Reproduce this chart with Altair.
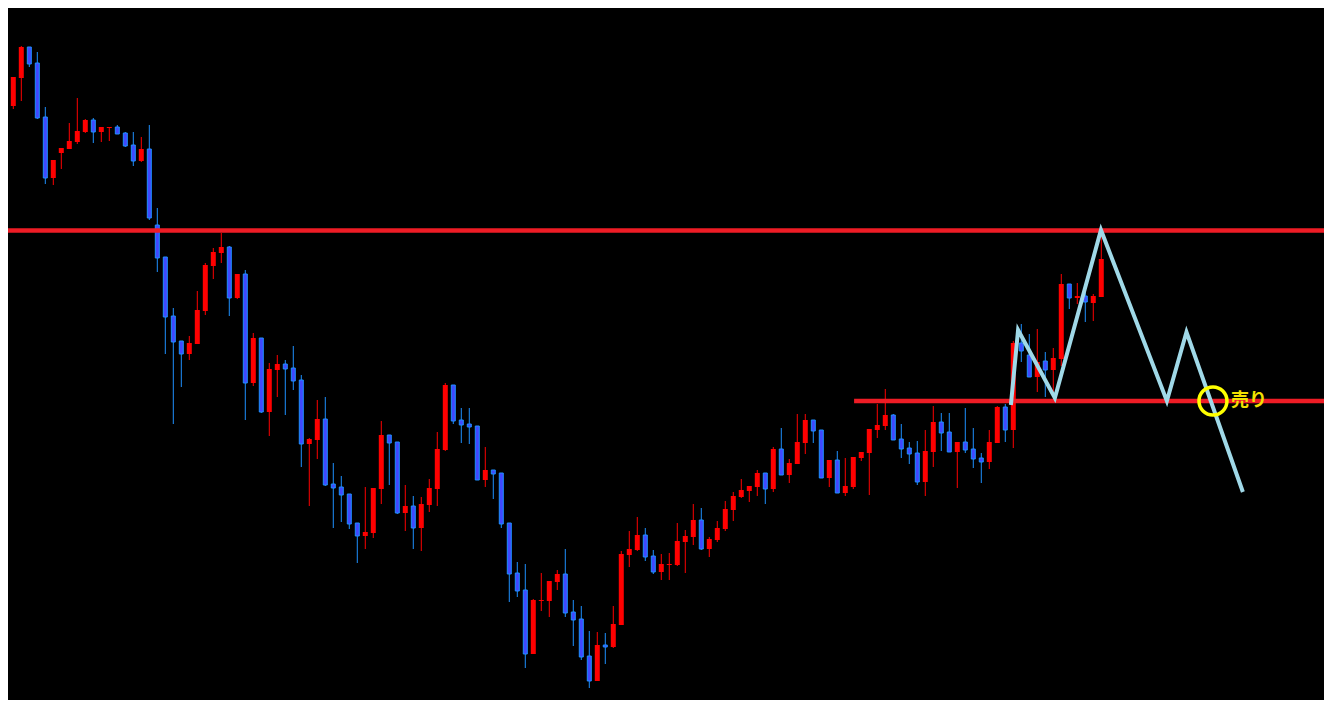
import altair as alt
import pandas as pd

# ---- candle data (index, open, high, low, close) ----
opens = [575, 594, 622, 653, 637, 583, 522, 547, 551, 558, 568, 580, 568, 572, 573, 567, 555, 539, 551, 475,
         443, 384, 359, 346, 356, 389, 434, 447, 453, 402, 426, 317, 362, 288, 330, 336, 332, 320, 256, 260,
         281, 216, 213, 206, 177, 164, 167, 211, 265, 258, 187, 194, 172, 195, 211, 250, 315, 280, 276, 274,
         220, 230, 227, 177, 127, 110, 46, 99, 99, 118, 126, 88, 81, 44, 19, 55, 53, 75, 145, 150,
         165, 144, 128, 135, 135, 158, 163, 180, 151, 160, 171, 190, 203, 209, 213, 227, 211, 251, 225, 236,
         257, 280, 270, 222, 240, 207, 213, 242, 247, 270, 274, 285, 261, 252, 247, 218, 248, 278, 268, 248,
         258, 251, 242, 238, 257, 293, 270, 357, 345, 323, 339, 330, 341, 416, 402, 404, 397, 403]
highs = [600, 623, 654, 653, 648, 593, 540, 552, 577, 602, 581, 582, 573, 573, 575, 568, 568, 563, 575, 492,
         443, 392, 359, 364, 409, 437, 452, 467, 454, 426, 430, 367, 362, 337, 345, 340, 354, 325, 262, 300,
         303, 237, 224, 206, 177, 213, 212, 279, 265, 258, 215, 204, 203, 221, 268, 317, 315, 292, 292, 274,
         253, 230, 227, 177, 138, 136, 101, 127, 119, 130, 151, 100, 94, 69, 68, 67, 94, 149, 169, 183,
         172, 150, 146, 147, 177, 170, 196, 192, 163, 179, 199, 208, 221, 214, 230, 227, 253, 272, 241, 286,
         286, 280, 270, 240, 249, 242, 243, 248, 271, 296, 311, 286, 276, 258, 259, 270, 294, 287, 287, 258,
         292, 272, 247, 270, 294, 296, 359, 376, 366, 371, 348, 352, 426, 416, 417, 410, 406, 465]
lows = [560, 591, 599, 633, 581, 516, 515, 531, 551, 556, 567, 557, 558, 559, 566, 553, 534, 538, 480, 428,
        346, 276, 313, 340, 356, 385, 421, 437, 384, 401, 280, 314, 287, 264, 303, 285, 310, 233, 194, 241,
        214, 172, 178, 171, 137, 151, 162, 196, 215, 186, 169, 151, 149, 188, 194, 249, 276, 257, 256, 220,
        213, 201, 172, 98, 103, 32, 46, 89, 83, 110, 83, 54, 40, 12, 19, 36, 52, 75, 133, 149,
        139, 126, 120, 120, 134, 127, 155, 150, 143, 158, 169, 179, 202, 198, 204, 196, 208, 225, 217, 236,
        246, 257, 222, 213, 207, 204, 211, 239, 205, 262, 270, 260, 242, 236, 215, 204, 233, 249, 248, 212,
        247, 232, 217, 231, 257, 258, 252, 338, 323, 308, 303, 308, 334, 391, 396, 378, 379, 403]
closes = [595, 623, 653, 636, 582, 522, 540, 552, 559, 569, 580, 568, 573, 573, 566, 554, 539, 551, 482, 442,
          383, 358, 346, 357, 390, 435, 448, 453, 402, 426, 317, 362, 288, 331, 336, 331, 319, 256, 261, 281,
          215, 212, 205, 176, 164, 168, 212, 265, 257, 187, 194, 172, 196, 212, 251, 315, 279, 275, 273, 220,
          230, 226, 176, 126, 109, 46, 100, 100, 119, 126, 87, 80, 43, 19, 55, 53, 76, 146, 151, 165,
          143, 128, 136, 136, 159, 164, 180, 151, 161, 172, 191, 204, 210, 214, 227, 211, 251, 225, 237, 258,
          280, 269, 222, 240, 207, 214, 243, 248, 271, 275, 285, 260, 251, 246, 218, 249, 278, 267, 248, 258,
          250, 241, 238, 258, 293, 270, 357, 349, 323, 338, 330, 342, 416, 402, 404, 398, 404, 441]

# ---- horizontal resistance / support lines ----
level_prices = [469.5, 299]
level_start = [-5, 106.1]
level_end = [170, 170]

# ---- zigzag (double-top sketch) ----
zig_x = [125.7, 126.6, 131.2, 136.96, 145.2, 147.65, 154.7]
zig_p = [295, 370, 302, 470, 299, 368, 208]

# ---- sell signal ----
sell_x = [150.96]
sell_p = [299]
label_x = [153.2]
label_text = ["売り"]

n = len(opens)
df = pd.DataFrame({
    "i": list(range(n)),
    "open": opens, "high": highs, "low": lows, "close": closes,
})
df["dir"] = ["up" if c >= o else "down" for o, c in zip(opens, closes)]

xs = alt.Scale(domain=[0.3375, 164.84], nice=False, zero=False, padding=0)
ys = alt.Scale(domain=[0, 692], nice=False, zero=False, padding=0)

base = alt.Chart(df)

wicks = base.mark_rule(strokeWidth=1, clip=True).encode(
    x=alt.X("i:Q", scale=xs, axis=None),
    y=alt.Y("low:Q", scale=ys, axis=None),
    y2="high:Q",
    color=alt.Color("dir:N", scale=alt.Scale(domain=["up", "down"], range=["#ff0000", "#1e90ff"]), legend=None),
)

up_bodies = base.transform_filter(alt.datum.dir == "up").mark_bar(
    size=5, color="#ff0000", clip=True
).encode(
    x=alt.X("i:Q", scale=xs, axis=None),
    y=alt.Y("open:Q", scale=ys, axis=None),
    y2="close:Q",
)

down_bodies = base.transform_filter(alt.datum.dir == "down").mark_bar(
    size=4, fill="#4048ff", stroke="#1e90ff", strokeWidth=1, clip=True
).encode(
    x=alt.X("i:Q", scale=xs, axis=None),
    y=alt.Y("open:Q", scale=ys, axis=None),
    y2="close:Q",
)

lv = pd.DataFrame({"x0": level_start, "x1": level_end, "p": level_prices})
levels = alt.Chart(lv).mark_rule(strokeWidth=4.5, color="#ee1c25", clip=True).encode(
    x=alt.X("x0:Q", scale=xs, axis=None),
    x2="x1:Q",
    y=alt.Y("p:Q", scale=ys, axis=None),
)

zz = pd.DataFrame({"x": zig_x, "p": zig_p, "k": list(range(len(zig_x)))})
zigzag = alt.Chart(zz).mark_line(color="#a0d9e8", strokeWidth=4, strokeJoin="miter", clip=True).encode(
    x=alt.X("x:Q", scale=xs, axis=None),
    y=alt.Y("p:Q", scale=ys, axis=None),
    order="k:Q",
)

sd = pd.DataFrame({"x": sell_x, "p": sell_p})
circle = alt.Chart(sd).mark_point(
    shape="circle", size=784, filled=False, stroke="#ffff00", strokeWidth=3.5, opacity=1
).encode(
    x=alt.X("x:Q", scale=xs, axis=None),
    y=alt.Y("p:Q", scale=ys, axis=None),
)

ld = pd.DataFrame({"x": label_x, "p": sell_p, "t": label_text})
label = alt.Chart(ld).mark_text(
    align="left", baseline="middle", fontSize=18, fontWeight="bold",
    color="#f2e000", font="Noto Sans CJK JP"
).encode(
    x=alt.X("x:Q", scale=xs, axis=None),
    y=alt.Y("p:Q", scale=ys, axis=None),
    text="t:N",
)

chart = alt.layer(wicks, up_bodies, down_bodies, levels, zigzag, circle, label).properties(
    width=1316, height=692, background="black", padding=0,
    autosize=alt.AutoSizeParams(type="none"),
).configure_view(strokeWidth=0)

chart.save("out.html", embed_options={"renderer": "svg", "actions": False})
